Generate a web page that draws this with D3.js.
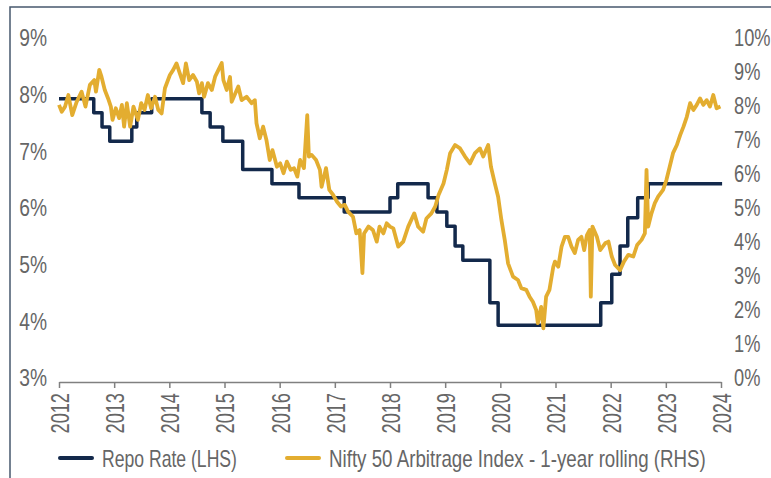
<!DOCTYPE html>
<html lang="en">
<head>
  <meta charset="UTF-8">
  <title>Repo rate vs Nifty 50 Arbitrage</title>
  <script src='https://d3js.org/d3.v7.min.js'></script>
  <style>
    body { margin: 0; background: #fff; }
    text { font-family: "Liberation Sans", Arial, sans-serif; fill: #666; }
  </style>
</head>
<body>
<script>
  // repo rate changes (x position in axis years, rate in %)
  const repoDates = [2012.0, 2012.63, 2012.78, 2012.92, 2013.32, 2013.41, 2013.68, 2014.59, 2014.74,
    2014.97, 2015.33, 2015.86, 2016.35, 2017.17, 2018.0, 2018.14, 2018.69, 2018.85, 2019.03,
    2019.18, 2019.32, 2019.81, 2019.96, 2021.82, 2022.02, 2022.17, 2022.31, 2022.49, 2022.68, 2024.02];
  const repoRates = [8.0, 7.75, 7.5, 7.25, 7.5, 7.75, 8.0, 7.75, 7.5,
    7.25, 6.75, 6.5, 6.25, 6.0, 6.25, 6.5, 6.25, 6.0, 5.75,
    5.4, 5.15, 4.4, 4.0, 4.4, 4.9, 5.4, 5.9, 6.25, 6.5, 6.5];

  // Nifty 50 Arbitrage Index, 1-year rolling return (%)
  const arbDates = [2012.00, 2012.05, 2012.11, 2012.17, 2012.24, 2012.32, 2012.41, 2012.48, 2012.56, 2012.64,
    2012.67, 2012.73, 2012.77, 2012.83, 2012.89, 2012.94, 2012.97, 2013.03, 2013.09, 2013.14,
    2013.18, 2013.23, 2013.29, 2013.35, 2013.43, 2013.49, 2013.55, 2013.61, 2013.67, 2013.74,
    2013.80, 2013.86, 2013.92, 2014.01, 2014.07, 2014.13, 2014.19, 2014.25, 2014.30, 2014.36,
    2014.43, 2014.50, 2014.54, 2014.59, 2014.63, 2014.70, 2014.77, 2014.83, 2014.89, 2014.95,
    2014.98, 2015.04, 2015.10, 2015.13, 2015.25, 2015.31, 2015.40, 2015.49, 2015.55, 2015.58,
    2015.64, 2015.70, 2015.76, 2015.82, 2015.87, 2015.95, 2016.01, 2016.07, 2016.13, 2016.20,
    2016.26, 2016.32, 2016.37, 2016.44, 2016.50, 2016.53, 2016.58, 2016.66, 2016.73, 2016.76,
    2016.84, 2016.90, 2016.97, 2017.04, 2017.11, 2017.18, 2017.24, 2017.33, 2017.39, 2017.45,
    2017.50, 2017.53, 2017.61, 2017.69, 2017.76, 2017.81, 2017.88, 2017.94, 2018.00, 2018.06,
    2018.15, 2018.24, 2018.33, 2018.44, 2018.51, 2018.60, 2018.66, 2018.75, 2018.82, 2018.88,
    2018.97, 2019.03, 2019.09, 2019.18, 2019.27, 2019.36, 2019.45, 2019.54, 2019.63, 2019.69,
    2019.78, 2019.83, 2019.90, 2019.96, 2020.02, 2020.08, 2020.14, 2020.23, 2020.32, 2020.38,
    2020.47, 2020.53, 2020.59, 2020.65, 2020.68, 2020.74, 2020.78, 2020.83, 2020.89, 2020.96,
    2020.99, 2021.05, 2021.11, 2021.17, 2021.23, 2021.29, 2021.35, 2021.41, 2021.47, 2021.52,
    2021.57, 2021.62, 2021.64, 2021.67, 2021.75, 2021.81, 2021.90, 2021.96, 2022.02, 2022.08,
    2022.17, 2022.24, 2022.32, 2022.41, 2022.48, 2022.56, 2022.62, 2022.65, 2022.68, 2022.74,
    2022.80, 2022.86, 2022.95, 2023.01, 2023.07, 2023.13, 2023.20, 2023.26, 2023.32, 2023.38,
    2023.44, 2023.50, 2023.56, 2023.62, 2023.68, 2023.74, 2023.80, 2023.86, 2023.92, 2023.99];
  const arbValues = [8.15, 7.95, 8.10, 8.44, 7.85, 8.24, 8.54, 8.10, 8.74, 8.88,
    8.54, 9.18, 8.98, 8.59, 8.34, 8.10, 7.71, 8.05, 7.76, 8.15,
    7.51, 8.20, 7.51, 8.10, 7.71, 8.20, 8.00, 8.44, 8.05, 8.39,
    8.00, 7.90, 8.64, 9.03, 9.18, 9.37, 9.08, 8.79, 9.37, 8.88,
    9.03, 8.83, 8.49, 8.79, 8.39, 8.79, 8.59, 8.98, 9.18, 9.38,
    8.88, 8.59, 8.97, 8.24, 8.69, 8.29, 8.39, 8.20, 8.29, 7.61,
    7.17, 7.51, 7.12, 6.53, 6.82, 6.33, 6.43, 6.14, 6.48, 6.24,
    6.29, 6.04, 6.53, 6.29, 7.85, 6.63, 6.68, 6.53, 6.24, 5.74,
    6.29, 5.65, 5.50, 5.30, 5.16, 5.21, 5.01, 4.86, 4.37, 4.47,
    3.20, 4.37, 4.57, 4.47, 4.13, 4.57, 4.37, 4.67, 4.57, 4.52,
    3.98, 4.13, 4.57, 4.96, 4.57, 4.42, 4.81, 4.96, 5.16, 5.50,
    5.84, 6.24, 6.73, 6.97, 6.87, 6.63, 6.43, 6.73, 6.87, 6.63,
    6.97, 6.33, 5.84, 5.45, 4.76, 4.18, 3.49, 3.10, 3.00, 2.76,
    2.71, 2.51, 2.36, 2.12, 1.73, 2.21, 1.58, 2.51, 2.71, 3.39,
    3.54, 3.39, 3.98, 4.27, 4.27, 3.98, 3.79, 4.18, 4.27, 3.88,
    4.32, 4.47, 2.51, 4.57, 4.27, 3.88, 4.08, 4.13, 3.69, 3.44,
    3.29, 3.54, 3.74, 3.69, 4.03, 4.18, 4.37, 6.24, 4.57, 4.96,
    5.26, 5.45, 5.65, 5.94, 6.33, 6.73, 6.97, 7.26, 7.51, 7.80,
    8.20, 8.00, 8.15, 8.34, 8.15, 8.29, 8.10, 8.44, 8.05, 8.10];

  const yearTicks = d3.range(2012, 2025);
  const leftTicks = [3, 4, 5, 6, 7, 8, 9];
  const rightTicks = d3.range(0, 11);
  const seriesNames = ["Repo Rate (LHS)", "Nifty 50 Arbitrage Index - 1-year rolling (RHS)"];

  const width = 771, height = 478;
  const navy = "#13294b", gold = "#e3ad30";

  // the source uses a condensed face: squeeze labels horizontally via transform
  function condense(sel, pre, factor) {
    sel.attr("x", 0).attr("y", 0)
      .attr("transform", `${pre} scale(${factor},1)`);
  }

  const svg = d3.select("body").append("svg")
    .attr("width", width)
    .attr("height", height);

  // frame (only top & left edges are inside the picture)
  svg.append("rect")
    .attr("x", 10).attr("y", 7)
    .attr("width", width + 20).attr("height", height + 20)
    .attr("fill", "none")
    .attr("stroke", "#47586e")
    .attr("stroke-width", 1.5);

  const x = d3.scaleLinear().domain([2012, 2024]).range([59, 721]);
  const yL = d3.scaleLinear().domain([3, 9]).range([382, 42]);
  const yR = d3.scaleLinear().domain([0, 10]).range([382, 42]);

  // left axis
  const gl = svg.append("g")
    .attr("transform", "translate(59,0)")
    .call(d3.axisLeft(yL).tickValues(leftTicks).tickSize(0).tickFormat(d => d + "%"));
  gl.select(".domain").remove();
  gl.selectAll("text").style("font-size", "24px").style("font-family", null);
  condense(gl.selectAll("text"), "translate(-12,-4)", 0.8);

  // right axis
  const gr = svg.append("g")
    .attr("transform", "translate(721,0)")
    .call(d3.axisRight(yR).tickValues(rightTicks).tickSize(0).tickFormat(d => d + "%"));
  gr.select(".domain").remove();
  gr.selectAll("text").style("font-size", "24px").style("font-family", null);
  condense(gr.selectAll("text"), "translate(13,-4)", 0.76);

  // bottom axis
  const gb = svg.append("g")
    .attr("transform", "translate(0,382)")
    .call(d3.axisBottom(x).tickValues(yearTicks).tickSize(6).tickSizeOuter(0).tickFormat(d3.format("d")));
  gb.select(".domain").attr("stroke", "#808080").attr("stroke-width", 1.5);
  gb.selectAll(".tick line").attr("stroke", "#808080").attr("stroke-width", 1.5);
  gb.selectAll("text")
    .attr("dy", "0.36em")
    .style("text-anchor", "end")
    .style("font-size", "26px").style("font-family", null);
  condense(gb.selectAll("text"), "rotate(-90) translate(-11,0)", 0.7);

  // lines
  const repo = repoDates.map((d, i) => [d, repoRates[i]]);
  const arb = arbDates.map((d, i) => [d, arbValues[i]]);

  svg.append("path")
    .datum(repo)
    .attr("fill", "none")
    .attr("stroke", navy)
    .attr("stroke-width", 3.5)
    .attr("stroke-linejoin", "round")
    .attr("d", d3.line().x(d => x(d[0])).y(d => yL(d[1])).curve(d3.curveStepAfter));

  svg.append("path")
    .datum(arb)
    .attr("fill", "none")
    .attr("stroke", gold)
    .attr("stroke-width", 3.8)
    .attr("stroke-linejoin", "round")
    .attr("d", d3.line().x(d => x(d[0])).y(d => yR(d[1])));

  // legend: scale each label to the width it has in the source
  const legend = svg.append("g");
  const legX = [60, 287];
  const legW = [135, 377];
  [navy, gold].forEach((c, i) => {
    legend.append("line")
      .attr("x1", legX[i]).attr("x2", legX[i] + 32)
      .attr("y1", 458).attr("y2", 458)
      .attr("stroke", c).attr("stroke-width", 4).attr("stroke-linecap", "round");
    const t = legend.append("text")
      .style("font-size", "23px")
      .text(seriesNames[i]);
    const s = legW[i] / t.node().getComputedTextLength();
    t.attr("transform", `translate(${legX[i] + 42},467) scale(${s},1)`);
  });
</script>
</body>
</html>
